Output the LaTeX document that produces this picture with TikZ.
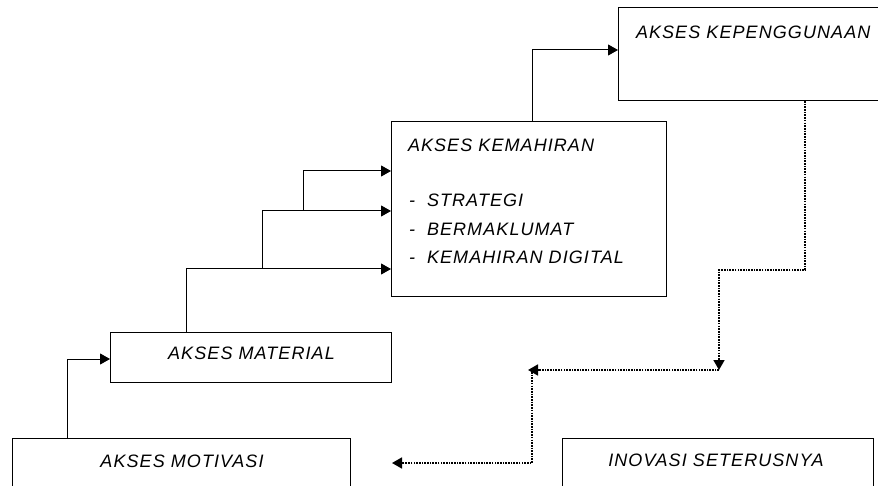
\documentclass[tikz,border=0pt]{standalone}
\usepackage{fontspec}
\setmainfont{Liberation Sans}[LetterSpace=6]
\usetikzlibrary{arrows.meta}
\tikzset{
  box/.style={draw=black, line width=1bp, rectangle, inner sep=0pt, outer sep=0pt, anchor=north west},
  lbl/.style={inner sep=0pt, outer sep=0pt, font=\fontsize{18bp}{21bp}\selectfont\itshape, text=black},
  arr/.style={line width=1bp, -{Triangle[length=10bp,width=11bp]}},
  dotline/.style={line width=1.7bp, dash pattern=on 1.6bp off 1.1bp, -{Triangle[length=10bp,width=11bp]}}
}
\begin{document}
\begin{tikzpicture}[x=1bp,y=-1bp]
\useasboundingbox (0,0) rectangle (878,486);
\fill[white] (0,0) rectangle (878,486);
\clip (0,0) rectangle (878,486);
% boxes
\node[box, minimum width=338bp, minimum height=70bp] (mot) at (12,438) {};
\node[box, minimum width=281bp, minimum height=50bp] (mat) at (110,332) {};
\node[box, minimum width=275bp, minimum height=174bp] (kem) at (391,122) {};
\node[box, minimum width=290bp, minimum height=93bp] (kep) at (618,8) {};
\node[box, minimum width=311bp, minimum height=70bp] (ino) at (562,438) {};
% texts
\node[lbl] (tmot) at (182,461) {AKSES MOTIVASI};
\node[lbl] (tmat) at (251.5,353) {AKSES MATERIAL};
\node[lbl, anchor=west] (tkem) at (408,145) {AKSES KEMAHIRAN};
\node[lbl, anchor=west] (t1) at (427,200) {STRATEGI};
\node[lbl, anchor=west] (t2) at (427,229) {BERMAKLUMAT};
\node[lbl, anchor=west] (t3) at (427,257) {KEMAHIRAN DIGITAL};
\coordinate (dx) at (409,0);
\node[lbl, anchor=base west] (d1) at (dx |- t1.base) {-};
\node[lbl, anchor=base west] (d2) at (dx |- t2.base) {-};
\node[lbl, anchor=base west] (d3) at (dx |- t3.base) {-};
\node[lbl, anchor=west] (tkep) at (636,32) {AKSES KEPENGGUNAAN};
\node[lbl] (tino) at (716,460.5) {INOVASI SETERUSNYA};
% coordinates
\coordinate (motT) at (67,438);
\coordinate (matL) at (110,359);
\coordinate (matT) at (186,332);
\coordinate (k1) at (391,171);
\coordinate (k2) at (391,211);
\coordinate (k3) at (391,269);
\coordinate (b1) at (262,269);
\coordinate (b2) at (303,211);
\coordinate (kemT) at (532,122);
\coordinate (kepL) at (618,50);
\coordinate (kepB) at (805,101);
\coordinate (p1) at (805,270);
\coordinate (e1) at (719,370);
\coordinate (e2) at (528,370);
\coordinate (s2) at (532,372);
\coordinate (e3) at (392,463);
% solid connectors
\draw[arr] (motT) |- (matL);
\draw[arr] (matT) |- (k3);
\draw[arr] (b1) |- (k2);
\draw[arr] (b2) |- (k1);
\draw[arr] (kemT) |- (kepL);
% dotted connectors
\draw[dotline] (kepB) -- (p1) -| (e1);
\draw[dotline] (e1) -- (e2);
\draw[dotline] (s2) |- (e3);
\end{tikzpicture}
\end{document}
